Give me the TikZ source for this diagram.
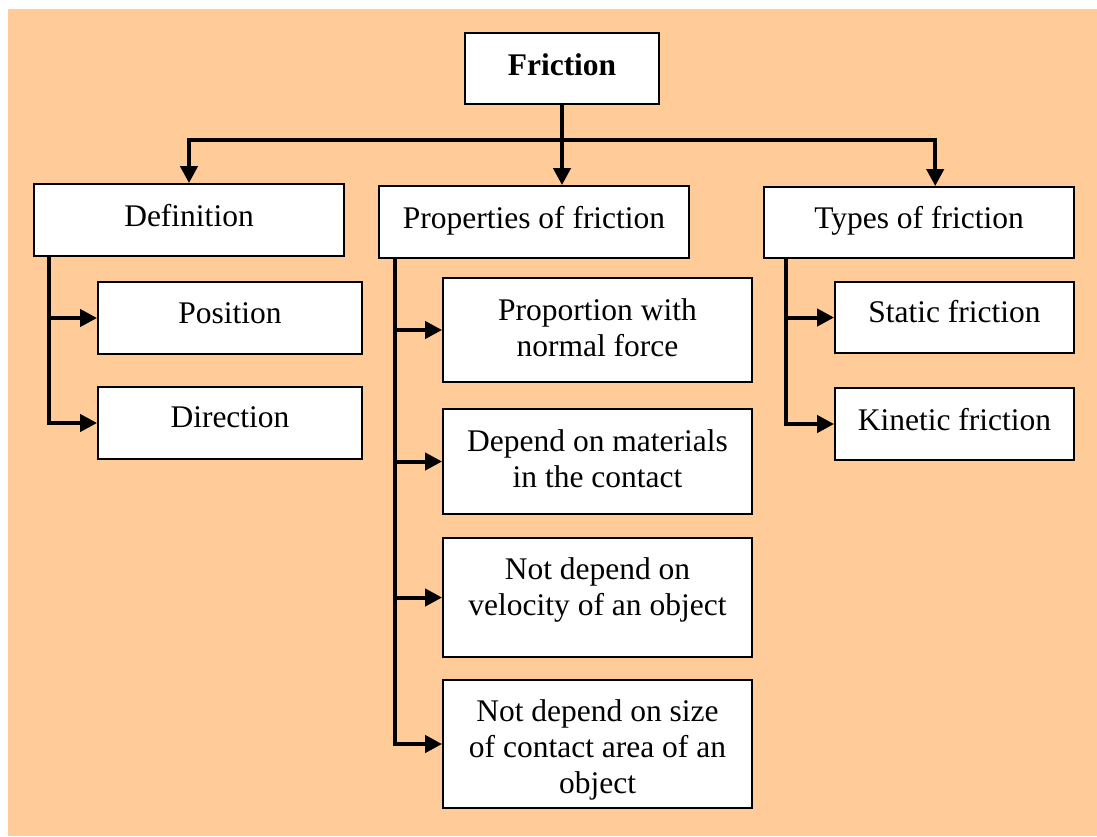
\documentclass[tikz,border=0pt]{standalone}
\usepackage{fontspec}
\setmainfont{Liberation Serif}
\usetikzlibrary{arrows.meta,calc}
\definecolor{peach}{RGB}{255,204,153}
\begin{document}
\begin{tikzpicture}[x=1pt,y=-1pt,
  box/.style={draw=black, line width=1.8pt, fill=white, rectangle, inner sep=0pt},
  txt/.style={align=center, inner sep=0pt, font=\fontsize{31.5}{36}\selectfont},
  conn/.style={line width=4pt, line join=miter},
  arr/.style={conn, -{Triangle[length=17pt,width=17pt]}}]

% page and background panel
\useasboundingbox (0,0) rectangle (1097,836);
\fill[white] (0,0) rectangle (1097,836);
\fill[peach] (8,9) rectangle (1097,836);

% boxes
\node[box, minimum width=194pt, minimum height=71pt] (fr)    at (562,68.5)  {};
\node[box, minimum width=310pt, minimum height=72pt] (def)   at (189,220)   {};
\node[box, minimum width=310pt, minimum height=72pt] (props) at (534,222)   {};
\node[box, minimum width=310pt, minimum height=71pt] (types) at (919,222.5) {};
\node[box, minimum width=264pt, minimum height=72pt] (pos)   at (230,318)   {};
\node[box, minimum width=264pt, minimum height=72pt] (dir)   at (230,423)   {};
\node[box, minimum width=309pt, minimum height=104pt] (pa)   at (597.5,330)   {};
\node[box, minimum width=309pt, minimum height=105pt] (pb)   at (597.5,461.5) {};
\node[box, minimum width=309pt, minimum height=119pt] (pc)   at (597.5,597.5) {};
\node[box, minimum width=309pt, minimum height=128pt] (pd)   at (597.5,744)   {};
\node[box, minimum width=239pt, minimum height=71pt] (stat)  at (954.5,317.5) {};
\node[box, minimum width=239pt, minimum height=72pt] (kin)   at (954.5,424)   {};

% texts
\node[txt, font=\fontsize{31.5}{36}\selectfont\bfseries] (t-fr) at (562,64.5) {Friction};
\node[txt] (t-def)   at (189,215.5) {Definition};
\node[txt] (t-props) at (534,220.5) {Properties of friction};
\node[txt] (t-types) at (919,220.5) {Types of friction};
\node[txt] (t-pos)   at (230,313.5) {Position};
\node[txt] (t-dir)   at (230,417)   {Direction};
\node[txt] (t-pa)    at (597.5,327.5) {Proportion with\\normal force};
\node[txt] (t-pb)    at (597.5,459)   {Depend on materials\\in the contact};
\node[txt] (t-pc)    at (597.5,590)   {Not depend on\\velocity of an object};
\node[txt] (t-pd)    at (597.5,749.5) {Not depend on size\\of contact area of an\\object};
\node[txt] (t-stat)  at (954.5,312) {Static friction};
\node[txt] (t-kin)   at (954.5,420) {Kinetic friction};

% top-level connectors
\coordinate (bus) at (562,140);
\draw[arr] (fr.south) -- (bus) -| (def.north);
\draw[arr] (bus) -| ($(types.north west)!0.552!(types.north east)$);
\draw[arr] (bus) -- (bus |- props.north);

% branch connectors
\coordinate (dl) at ($(def.south west)+(16,0)$);
\draw[arr] (dl) |- (pos.west);
\draw[arr] (dl) |- (dir.west);

\coordinate (pl) at ($(props.south west)+(17,0)$);
\draw[arr] (pl) |- (pa.west);
\draw[arr] (pl) |- (pb.west);
\draw[arr] (pl) |- (pc.west);
\draw[arr] (pl) |- (pd.west);

\coordinate (tl) at ($(types.south west)+(23,0)$);
\draw[arr] (tl) |- (stat.west);
\draw[arr] (tl) |- (kin.west);
\end{tikzpicture}
\end{document}
